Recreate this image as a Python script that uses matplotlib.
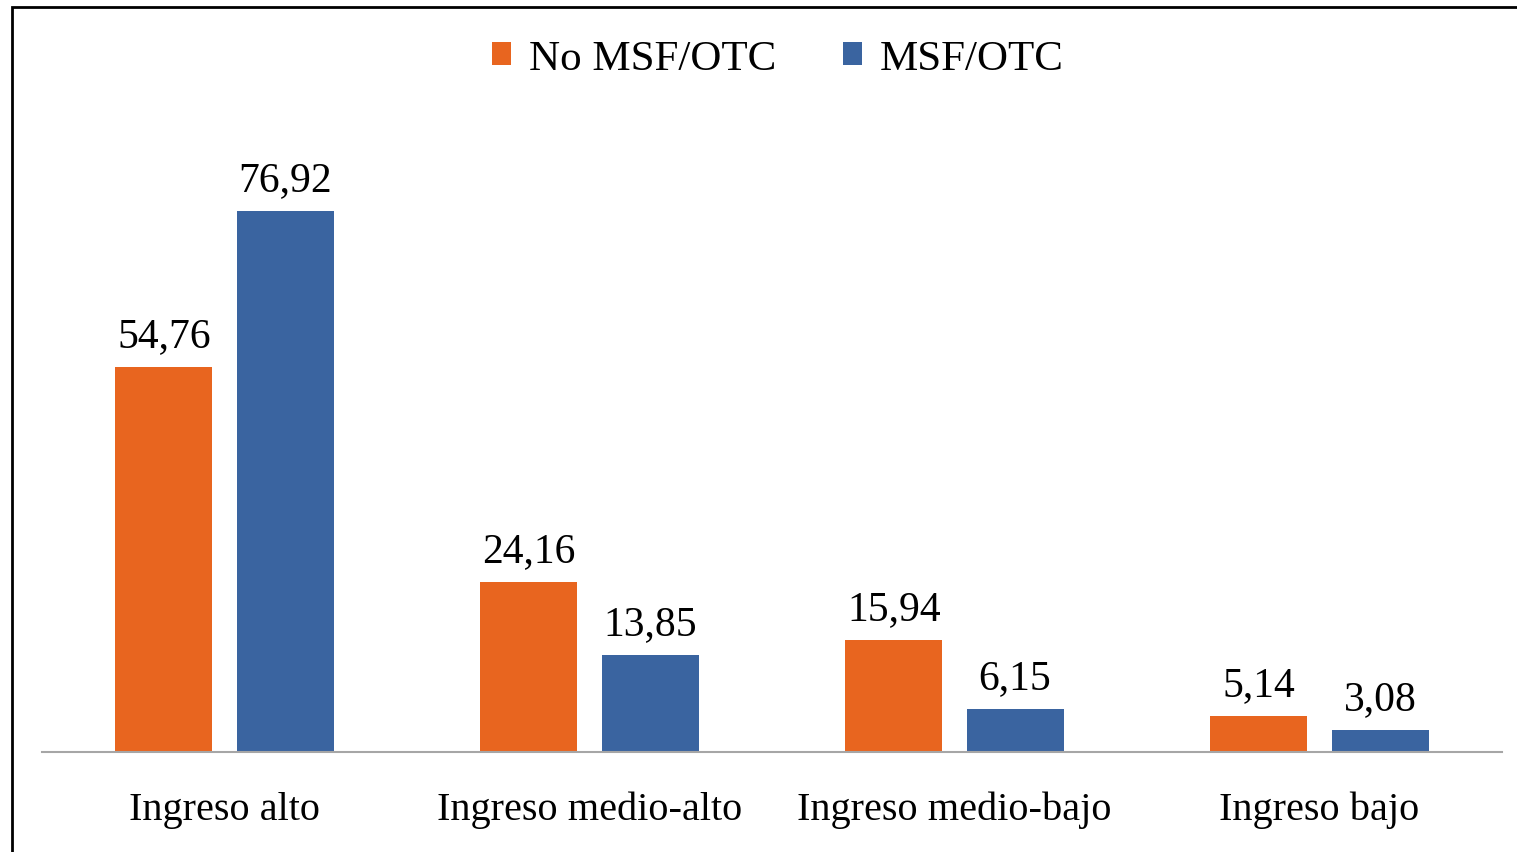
import matplotlib.pyplot as plt
import matplotlib.patches as patches
import numpy as np

# datos
categorias = ["Ingreso alto", "Ingreso medio-alto", "Ingreso medio-bajo", "Ingreso bajo"]
no_msf = [54.76, 24.16, 15.94, 5.14]
msf = [76.92, 13.85, 6.15, 3.08]
series = ["No MSF/OTC", "MSF/OTC"]
colores = ["#E8651F", "#3A64A0"]

plt.rcParams['font.family'] = ['Liberation Serif', 'DejaVu Serif']

W, H = 1517, 853
fig = plt.figure(figsize=(W / 100, H / 100), dpi=100)
ax = fig.add_axes([42 / W, (H - 753) / H, 1460 / W, 633 / H])

x = np.arange(len(categorias))
ancho = 0.266
desp = 0.166

b1 = ax.bar(x - desp, no_msf, ancho, color=colores[0], label=series[0])
b2 = ax.bar(x + desp, msf, ancho, color=colores[1], label=series[1])

for bars, vals in [(b1, no_msf), (b2, msf)]:
    for bar, v in zip(bars, vals):
        ax.annotate(f"{v:.2f}".replace(".", ","),
                    (bar.get_x() + bar.get_width() / 2, v),
                    xytext=(0, 15), textcoords="offset points",
                    ha="center", va="baseline", fontsize=30)

ax.set_xlim(-0.5, 3.5)
ax.set_ylim(0, 90)
ax.set_yticks([])
ax.set_xticks(x)
ax.set_xticklabels(categorias, fontsize=29)
ax.tick_params(axis="x", length=0, pad=28)
for s in ["top", "right", "left"]:
    ax.spines[s].set_visible(False)
ax.spines["bottom"].set_color("#A6A6A6")
ax.spines["bottom"].set_linewidth(1.5)

fig.legend(loc="upper center", bbox_to_anchor=(0.5125, 0.998), ncol=2, frameon=False,
           fontsize=31, handlelength=0.46, handleheight=0.46,
           handletextpad=0.4, columnspacing=1.55)

# marco
fig.patches.append(patches.Rectangle((12 / W, -0.1), 2, (H - 8) / H + 0.1,
                                     transform=fig.transFigure, fill=False,
                                     edgecolor="black", linewidth=2))

fig.savefig("out.png", dpi=100)
